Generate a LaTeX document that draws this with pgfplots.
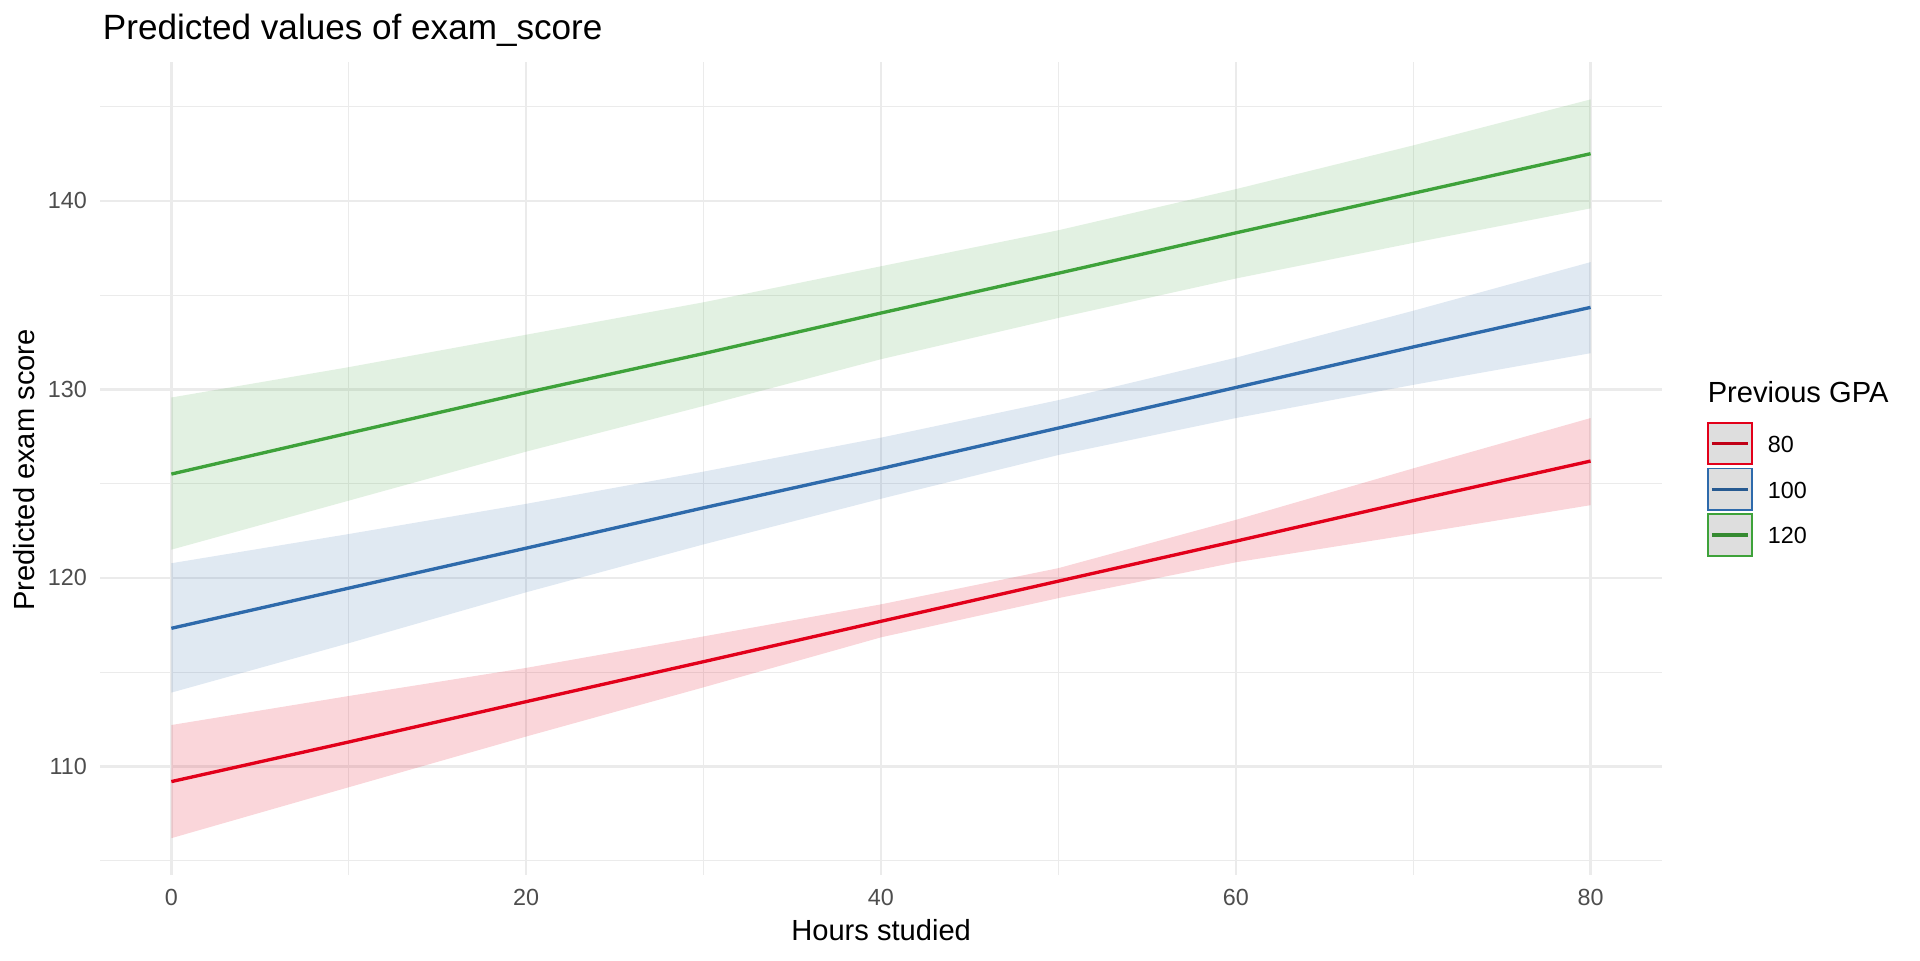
\documentclass[border=0pt]{standalone}
\usepackage{fontspec}
\setmainfont{Liberation Sans}
\usepackage{pgfplots}
\pgfplotsset{compat=1.18}
\definecolor{ggred}{HTML}{E2001A}
\definecolor{ggblue}{HTML}{2E6AAB}
\definecolor{gggreen}{HTML}{3EA23A}
\definecolor{grid92}{HTML}{EBEBEB}
\definecolor{grey30}{HTML}{4D4D4D}
\definecolor{keyfill}{HTML}{DEDEDE}
\begin{document}
\begin{tikzpicture}
\useasboundingbox (0,0) rectangle (864pt,432pt);
\begin{axis}[
  at={(45.18pt,38.2pt)}, anchor=south west,
  scale only axis, width=702.5pt, height=365.7pt,
  xmin=-4, xmax=84, ymin=104.24, ymax=147.34,
  xtick={0,20,40,60,80}, minor xtick={10,30,50,70},
  ytick={110,120,130,140}, minor ytick={105,115,125,135,145},
  grid=both,
  major grid style={draw=grid92, line width=1.07pt},
  minor grid style={draw=grid92, line width=0.53pt},
  axis line style={draw=none},
  major tick length=0pt, minor tick length=0pt,
  tick style={draw=none},
  /pgf/number format/assume math mode=true,
  ticklabel style={font=\fontsize{10.5}{12}\selectfont, text=grey30, inner sep=0pt},
  xticklabel style={anchor=north, yshift=-6.2pt},
  yticklabel style={anchor=east, xshift=-5.9pt},
]
% confidence bands
\addplot[draw=none, fill=ggred, fill opacity=0.16] coordinates {
 (0,112.2) (10,113.74) (20,115.23) (30,116.9) (40,118.6) (50,120.52) (60,123.08) (70,125.81) (80,128.48)
 (80,123.86) (70,122.32) (60,120.83) (50,118.93) (40,116.85) (30,114.2) (20,111.59) (10,108.9) (0,106.2)} -- cycle;
\addplot[draw=none, fill=ggblue, fill opacity=0.15] coordinates {
 (0,120.78) (10,122.33) (20,123.93) (30,125.64) (40,127.44) (50,129.43) (60,131.68) (70,134.17) (80,136.75)
 (80,131.92) (70,130.24) (60,128.48) (50,126.52) (40,124.2) (30,121.78) (20,119.24) (10,116.54) (0,113.92)} -- cycle;
\addplot[draw=none, fill=gggreen, fill opacity=0.15] coordinates {
 (0,129.57) (10,131.18) (20,132.9) (30,134.62) (40,136.53) (50,138.44) (60,140.62) (70,142.94) (80,145.38)
 (80,139.6) (70,137.77) (60,135.88) (50,133.79) (40,131.6) (30,129.12) (20,126.7) (10,124.1) (0,121.5)} -- cycle;
% predicted lines
\addplot[ggred, line width=1.5pt] coordinates {
 (0,109.2) (10,111.3) (20,113.44) (30,115.56) (40,117.7) (50,119.83) (60,121.95) (70,124.1) (80,126.2)};
\addplot[ggblue, line width=1.5pt] coordinates {
 (0,117.33) (10,119.46) (20,121.58) (30,123.72) (40,125.8) (50,127.95) (60,130.1) (70,132.25) (80,134.35)};
\addplot[gggreen, line width=1.5pt] coordinates {
 (0,125.51) (10,127.68) (20,129.83) (30,131.9) (40,134.05) (50,136.16) (60,138.3) (70,140.4) (80,142.5)};
\end{axis}
% titles
\node[anchor=base west, inner sep=0pt, font=\fontsize{15.8}{18}\selectfont] at (46.1pt,414pt) {Predicted values of exam\_score};
\node[anchor=base, inner sep=0pt, font=\fontsize{13.1}{15}\selectfont] at (396.5pt,9.0pt) {Hours studied};
\node[anchor=base, rotate=90, inner sep=0pt, font=\fontsize{13.1}{15}\selectfont] at (15.6pt,220.5pt) {Predicted exam score};
% legend
\node[anchor=base west, inner sep=0pt, font=\fontsize{13.1}{15}\selectfont] at (768.3pt,250.8pt) {Previous GPA};
\draw[ggred, line width=0.75pt, fill=keyfill] (768.7pt,223.1pt) rectangle (788.3pt,241.8pt);
\draw[ggred!85!black, line width=1.4pt] (770.3pt,232.45pt) -- (786.7pt,232.45pt);
\draw[ggblue, line width=0.75pt, fill=keyfill] (768.7pt,202.5pt) rectangle (788.3pt,221.2pt);
\draw[ggblue!85!black, line width=1.4pt] (770.3pt,211.85pt) -- (786.7pt,211.85pt);
\draw[gggreen, line width=0.75pt, fill=keyfill] (768.7pt,181.9pt) rectangle (788.3pt,200.6pt);
\draw[gggreen!85!black, line width=1.4pt] (770.3pt,191.25pt) -- (786.7pt,191.25pt);
\node[anchor=base west, inner sep=0pt, font=\fontsize{10.5}{12}\selectfont] at (795.3pt,228.5pt) {80};
\node[anchor=base west, inner sep=0pt, font=\fontsize{10.5}{12}\selectfont] at (795.3pt,207.9pt) {100};
\node[anchor=base west, inner sep=0pt, font=\fontsize{10.5}{12}\selectfont] at (795.3pt,187.3pt) {120};
\end{tikzpicture}
\end{document}
